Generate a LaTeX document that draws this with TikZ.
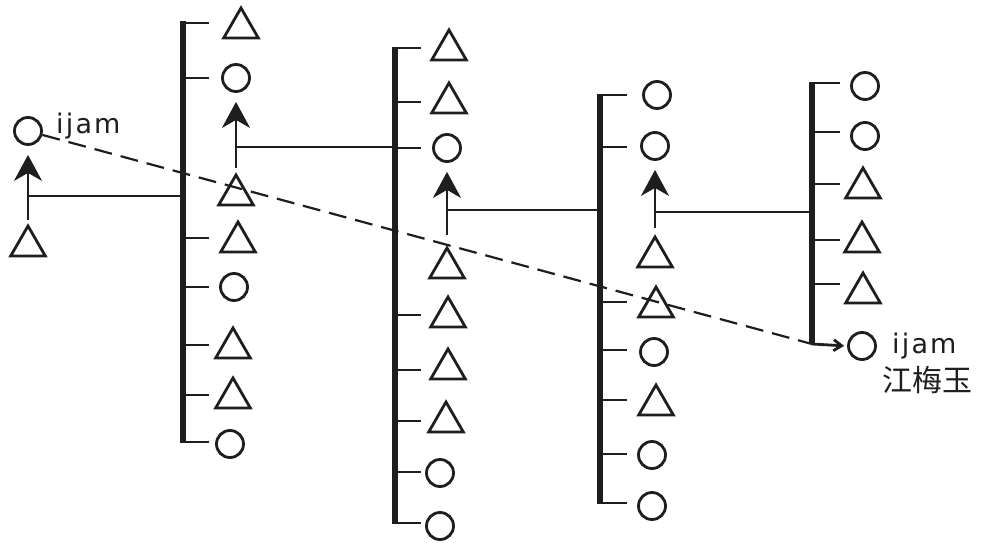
\documentclass[tikz,border=0pt]{standalone}
\usepackage{fontspec}
\newfontfamily\labfont[LetterSpace=8]{DejaVu Sans}
\newfontfamily\cjkfont{Noto Sans CJK SC}
\usetikzlibrary{shapes.geometric,arrows.meta}
\definecolor{ink}{RGB}{30,30,30}
\begin{document}
\begin{tikzpicture}[x=1pt,y=-1pt,
  shapeline/.style={draw=ink,line width=2.8pt,inner sep=0pt,fill=none},
  tri/.style={shapeline,regular polygon,regular polygon sides=3,minimum size=40pt,yshift=-5pt},
  circ/.style={shapeline,circle,minimum size=27pt},
  barline/.style={draw=ink,line width=6.5pt},
  tickline/.style={draw=ink,line width=2.8pt},
  thinline/.style={draw=ink,line width=2.2pt},
  bighead/.tip={Stealth[length=26pt,width=28pt,inset=8pt]},
  uparrow/.style={thinline,-bighead,shorten >=9pt,shorten <=4pt},
  dashline/.style={draw=ink,line width=2.2pt,dash pattern=on 18pt off 9pt},
  lab/.style={font=\labfont\fontsize{27}{27}\selectfont,text=ink,inner sep=0pt},
  cjk/.style={font=\cjkfont\fontsize{30}{30}\selectfont,text=ink,inner sep=0pt}]
\useasboundingbox[fill=white] (0,0) rectangle (982,543);

% ---- left pair ----
\node[circ] (L1) at (28,131) {};
\node[tri]  (L0) at (28,241) {};
\node[lab,anchor=base west] (lblA) at (56,133) {ijam};

% ---- column 1 ----
\coordinate (t1) at (183,21);
\coordinate (u1) at (183,443);
\draw[barline] (t1) -- (u1);
\node[tri]  (a1) at (241,23) {};
\node[circ] (a2) at (236,78) {};
\node[tri]  (a3) at (236,190) {};
\node[tri]  (a4) at (238,237) {};
\node[circ] (a5) at (234,287) {};
\node[tri]  (a6) at (233,343) {};
\node[tri]  (a7) at (233,393) {};
\node[circ] (a8) at (230,444) {};
\foreach \y in {23,78,238,287,345,395,442} \draw[tickline] (183,\y) -- ++(26,0);

% ---- column 2 ----
\coordinate (t2) at (395,47);
\coordinate (u2) at (395,524);
\draw[barline] (t2) -- (u2);
\node[tri]  (b1) at (449,45) {};
\node[tri]  (b2) at (449,98) {};
\node[circ] (b3) at (447,148) {};
\node[tri]  (b4) at (447,263) {};
\node[tri]  (b5) at (448,312) {};
\node[tri]  (b6) at (448,364) {};
\node[tri]  (b7) at (446,417) {};
\node[circ] (b8) at (440,473) {};
\node[circ] (b9) at (440,526) {};
\foreach \y in {48,102,148,315,370,421,472,523} \draw[tickline] (395,\y) -- ++(26,0);

% ---- column 3 ----
\coordinate (t3) at (600,94);
\coordinate (u3) at (600,504);
\draw[barline] (t3) -- (u3);
\node[circ] (c1) at (657,95) {};
\node[circ] (c2) at (655,146) {};
\node[tri]  (c3) at (655,252) {};
\node[tri]  (c4) at (656,302) {};
\node[circ] (c5) at (654,352) {};
\node[tri]  (c6) at (656,400) {};
\node[circ] (c7) at (652,455) {};
\node[circ] (c8) at (652,506) {};
\foreach \y in {95,147,302,350,400,454,503} \draw[tickline] (600,\y) -- ++(27,0);

% ---- column 4 ----
\coordinate (t4) at (812,82);
\coordinate (u4) at (812,344);
\draw[barline] (t4) -- (u4);
\node[circ] (d1) at (865,86) {};
\node[circ] (d2) at (865,136) {};
\node[tri]  (d3) at (863,183) {};
\node[tri]  (d4) at (862,237) {};
\node[tri]  (d5) at (863,288) {};
\node[circ] (d6) at (862,346) {};
\foreach \y in {83,132,184,240,284} \draw[tickline] (812,\y) -- ++(28,0);
\draw[tickline,-{Straight Barb[length=8pt,width=11pt]},shorten >=3pt] (u4) -- (d6.west);
\node[lab,anchor=base west] (lblB) at (892,353) {ijam};
\node[cjk] (lblC) at (927,380) {江梅玉};

% ---- arrows and links ----
\draw[uparrow,shorten <=3pt] (L0.north) -- (L0.north |- L1.south);
\coordinate (h1) at (28,196);
\draw[thinline] (h1) -- (h1 -| t1);

\draw[uparrow] (a3.north) -- (a3.north |- a2.south);
\coordinate (h2) at (236,147);
\draw[thinline] (h2) -- (h2 -| t2);

\draw[uparrow,shorten <=10pt] (b4.north) -- (b4.north |- b3.south);
\coordinate (h3) at (447,210);
\draw[thinline] (h3) -- (h3 -| t3);

\draw[uparrow,shorten <=6pt] (c3.north) -- (c3.north |- c2.south);
\coordinate (h4) at (655,212);
\draw[thinline] (h4) -- (h4 -| t4);

% ---- dashed link ----
\draw[dashline] (L1) -- (u4);
\end{tikzpicture}
\end{document}
